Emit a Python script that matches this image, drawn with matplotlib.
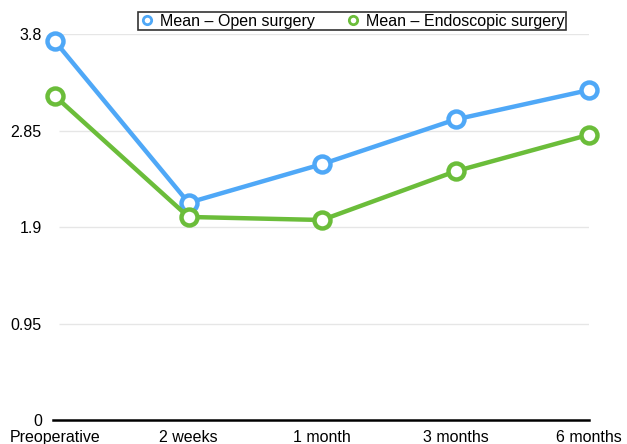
import matplotlib.pyplot as plt
from matplotlib.lines import Line2D

plt.rcParams['font.family'] = ['Liberation Sans', 'DejaVu Sans']

timepoints = ["Preoperative", "2 weeks", "1 month", "3 months", "6 months"]
open_mean = [3.73, 2.14, 2.52, 2.96, 3.25]
endo_mean = [3.19, 2.00, 1.97, 2.45, 2.81]
y_ticks = [0, 0.95, 1.9, 2.85, 3.8]
y_tick_labels = ["0", "0.95", "1.9", "2.85", "3.8"]

blue = "#4fa8f7"
green = "#6bbd3a"

fig = plt.figure(figsize=(6.27, 4.44), dpi=100)
ax = fig.add_axes([0.0845, 0.054, 0.855, 0.869])

x = list(range(len(timepoints)))
# light gridlines starting at the first category, like the original
ax.hlines(y_ticks[1:], 0.03, 4, color="#e6e6e6", lw=1, zorder=1)
ax.plot(x, open_mean, color=blue, lw=3.2, marker="o", ms=11.5, mfc="white",
        mec=blue, mew=3.2, clip_on=False, zorder=3)
ax.plot(x, endo_mean, color=green, lw=3.2, marker="o", ms=11.5, mfc="white",
        mec=green, mew=3.2, clip_on=False, zorder=3)

ax.set_xlim(-0.015, 4.0)
ax.set_ylim(0, 3.8)
ax.set_yticks(y_ticks)
ax.set_yticklabels(y_tick_labels, fontsize=11.5)
ax.set_xticks(x)
ax.set_xticklabels(timepoints, fontsize=11.5)
ax.tick_params(axis="both", length=0)
ax.tick_params(axis="y", pad=8)
ax.tick_params(axis="x", pad=7)
for s in ["top", "right", "left"]:
    ax.spines[s].set_visible(False)
ax.spines["bottom"].set_linewidth(1.8)

handles = [
    Line2D([], [], color=blue, lw=0, marker="o", ms=6, mfc="white", mec=blue, mew=2),
    Line2D([], [], color=green, lw=0, marker="o", ms=6, mfc="white", mec=green, mew=2),
]
leg = fig.legend(handles, ["Mean \u2013 Open surgery", "Mean \u2013 Endoscopic surgery"],
                 loc="center", bbox_to_anchor=(0.561, 0.952), ncol=2, fontsize=11.5,
                 frameon=True, fancybox=False, handlelength=1.0, handletextpad=0.3,
                 columnspacing=1.9, borderpad=0.1, borderaxespad=0)
leg.get_frame().set_edgecolor("black")
leg.get_frame().set_linewidth(1.2)

fig.savefig("out.png", dpi=100)
